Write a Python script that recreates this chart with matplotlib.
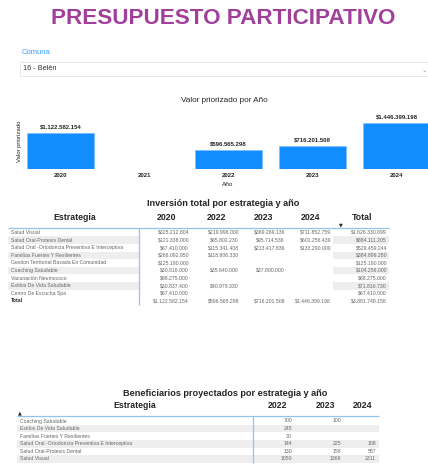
import matplotlib
matplotlib.use("Agg")
import matplotlib.pyplot as plt
from matplotlib.patches import Rectangle
import numpy as np

plt.rcParams['font.family'] = ['Liberation Sans', 'DejaVu Sans']

# ---------------- data ----------------
title = "PRESUPUESTO PARTICIPATIVO"
comuna_label = "Comuna"
comuna_value = "16 - Belén"

years = ["2020", "2021", "2022", "2023", "2024"]
valor_priorizado = [1122582154, None, 596565298, 716201508, 1446399198]

inv_years = ["2020", "2022", "2023", "2024"]
inv_strategies = [
    "Salud Visual",
    "Salud Oral-Protesis Dental",
    "Salud Oral -Ortodoncia Preventiva E Interceptiva",
    "Familias Fuertes Y Resilientes",
    "Gestion Territorial Basada En Comunidad",
    "Coaching Saludable",
    "Vacunación Neumococo",
    "Estilos De Vida Saludable",
    "Centro De Escucha Spa",
]
inv_2020 = [325212804, 121338000, 67410000, 266092950, 125190000, 30816000, 88275000, 30837400, 67410000]
inv_2022 = [219996000, 65802230, 115341408, 118806330, None, 35640000, None, 40979330, None]
inv_2023 = [369269136, 95714536, 213417836, None, None, 37800000, None, None, None]
inv_2024 = [711852759, 601256439, 133290000, None, None, None, None, None, None]

ben_years = ["2022", "2023", "2024"]
ben_strategies = [
    "Coaching Saludable",
    "Estilos De Vida Saludable",
    "Familias Fuertes Y Resilientes",
    "Salud Oral -Ortodoncia Preventiva E Interceptiva",
    "Salud Oral-Protesis Dental",
    "Salud Visual",
]
ben_2022 = [700, 245, 30, 144, 130, 1050]
ben_2023 = [100, None, None, 225, 158, 1366]
ben_2024 = [None, None, None, 108, 557, 2311]

# ---------------- helpers ----------------
W, H = 428, 472


def money(v):
    return "$" + f"{v:,}".replace(",", ".")


fig = plt.figure(figsize=(W / 100, H / 100), dpi=100)
fig.patch.set_facecolor("white")

# overlay axes in pixel coordinates
ov = fig.add_axes([0, 0, 1, 1])
ov.set_xlim(0, W)
ov.set_ylim(H, 0)
ov.axis("off")

# title
ov.text(223.5, 19, title, ha="center", va="center", fontsize=16.2,
        fontweight="bold", color="#A0409A")

# slicer
ov.text(22, 53, comuna_label, ha="left", va="center", fontsize=5.5, color="#3A9BFF")
ov.add_patch(Rectangle((20, 61.5), 420, 14.5, facecolor="white", edgecolor="#E4E4E4", lw=0.6))
ov.text(23, 69, comuna_value, ha="left", va="center", fontsize=5.3, color="#333333")
ov.text(425, 70, "⌄", ha="center", va="center", fontsize=5, color="#999999",
        family=["DejaVu Sans"])

# ---------------- bar chart ----------------
ov.text(224, 101, "Valor priorizado por Año", ha="center", va="center", fontsize=5.9,
        color="#252423")
ax_left, ax_w = 18.5, 420
ax_bottom, ax_h = 169, 56
ax = fig.add_axes([ax_left / W, 1 - ax_bottom / H, ax_w / W, ax_h / H])
vals = np.array([v if v is not None else 0 for v in valor_priorizado], dtype=float)
xpos = np.arange(len(years))
ax.bar(xpos, vals, width=0.8, color="#118DFF", edgecolor="#7DBDFF", linewidth=0.5)
ax.set_xlim(-0.5, len(years) - 0.5)
ax.set_ylim(0, max(vals) * 56 / 46)
for x, v in zip(xpos, valor_priorizado):
    if v is not None:
        ax.annotate(money(v), (x, v), xytext=(0, 2.5), textcoords="offset points",
                    ha="center", va="bottom", fontsize=4.3, fontweight="bold",
                    color="#252423")
ax.set_xticks(xpos)
ax.set_xticklabels(years, fontsize=4.3, fontweight="bold", color="#252423")
ax.tick_params(axis="x", length=0, pad=3)
ax.set_yticks([])
for s in ax.spines.values():
    s.set_visible(False)
ax.patch.set_alpha(0)
ov.text(228, 184, "Año", ha="center", va="center", fontsize=4.6, color="#252423")
ov.text(20, 141.5, "Valor priorizado", ha="center", va="center", rotation=90,
        fontsize=4.3, color="#252423")

# ---------------- investment table ----------------
ov.text(223, 204, "Inversión total por estrategia y año", ha="center", va="center",
        fontsize=6.6, fontweight="bold", color="#252423")
hdr_y = 218
ov.text(75, hdr_y, "Estrategia", ha="center", va="center", fontsize=6.3, fontweight="bold",
        color="#252423")
hdr_x = [167, 217, 264, 311]
for hx, yl in zip(hdr_x, inv_years):
    ov.text(hx, hdr_y, yl, ha="center", va="center", fontsize=6.3, fontweight="bold",
            color="#252423")
ov.text(362, hdr_y, "Total", ha="center", va="center", fontsize=6.3, fontweight="bold",
        color="#252423")
ov.text(341, 224.5, "▼", ha="center", va="center", fontsize=3.5, color="#252423",
        family=["DejaVu Sans"])

row0, dy = 232.5, 7.6
cols = [inv_2020, inv_2022, inv_2023, inv_2024]
col_right = [189, 239, 285, 331]
tot_right = 387
n = len(inv_strategies)
for i in range(n):
    y = row0 + i * dy
    if i % 2 == 1:
        ov.add_patch(Rectangle((8, y - dy / 2), 131, dy, facecolor="#EEEEEE", edgecolor="none"))
        ov.add_patch(Rectangle((333, y - dy / 2), 56, dy, facecolor="#EEEEEE", edgecolor="none"))
    ov.text(11, y, inv_strategies[i], ha="left", va="center", fontsize=3.7, color="#666666")
    tot = 0
    for c, xr in zip(cols, col_right):
        if c[i] is not None:
            ov.text(xr, y, money(c[i]), ha="right", va="center", fontsize=3.7, color="#666666")
            tot += c[i]
    ov.text(tot_right, y, money(tot), ha="right", va="center", fontsize=3.7, color="#666666")
# total row
y = row0 + n * dy
ov.text(11, y, "Total", ha="left", va="center", fontsize=3.7, fontweight="bold", color="#252423")
grand = 0
for c, xr in zip(cols, col_right):
    s = sum(v for v in c if v is not None)
    grand += s
    ov.text(xr, y, money(s), ha="right", va="center", fontsize=3.7, color="#666666")
ov.text(tot_right, y, money(grand), ha="right", va="center", fontsize=3.7, color="#666666")
ov.plot([8, 389], [228, 228], color="#90C4F2", lw=0.9, solid_capstyle="butt")
ov.plot([139, 139], [228, y + dy / 2], color="#90C4F2", lw=0.9, solid_capstyle="butt")

# ---------------- beneficiaries table ----------------
ov.text(225, 393, "Beneficiarios proyectados por estrategia y año", ha="center", va="center",
        fontsize=6.6, fontweight="bold", color="#252423")
hdr_y2 = 406
ov.text(135, hdr_y2, "Estrategia", ha="center", va="center", fontsize=6.3, fontweight="bold",
        color="#252423")
for hx, yl in zip([278, 326, 363], ben_years):
    ov.text(hx, hdr_y2, yl, ha="center", va="center", fontsize=6.3, fontweight="bold",
            color="#252423")
ov.text(20, 413, "▲", ha="center", va="center", fontsize=3.5, color="#252423",
        family=["DejaVu Sans"])
brow0 = 421
bcols = [ben_2022, ben_2023, ben_2024]
bright = [292, 341, 376]
for i, name in enumerate(ben_strategies):
    y = brow0 + i * dy
    if i % 2 == 1:
        ov.add_patch(Rectangle((17, y - dy / 2), 362, dy, facecolor="#EEEEEE", edgecolor="none"))
    ov.text(20, y, name, ha="left", va="center", fontsize=3.7, color="#666666")
    for c, xr in zip(bcols, bright):
        if c[i] is not None:
            ov.text(xr, y, str(c[i]), ha="right", va="center", fontsize=3.7, color="#666666")
ylast = brow0 + (len(ben_strategies) - 1) * dy + dy / 2
ov.plot([17, 379], [416, 416], color="#90C4F2", lw=0.9, solid_capstyle="butt")
ov.plot([253, 253], [416, ylast], color="#90C4F2", lw=0.9, solid_capstyle="butt")

fig.savefig("out.png", dpi=100)
